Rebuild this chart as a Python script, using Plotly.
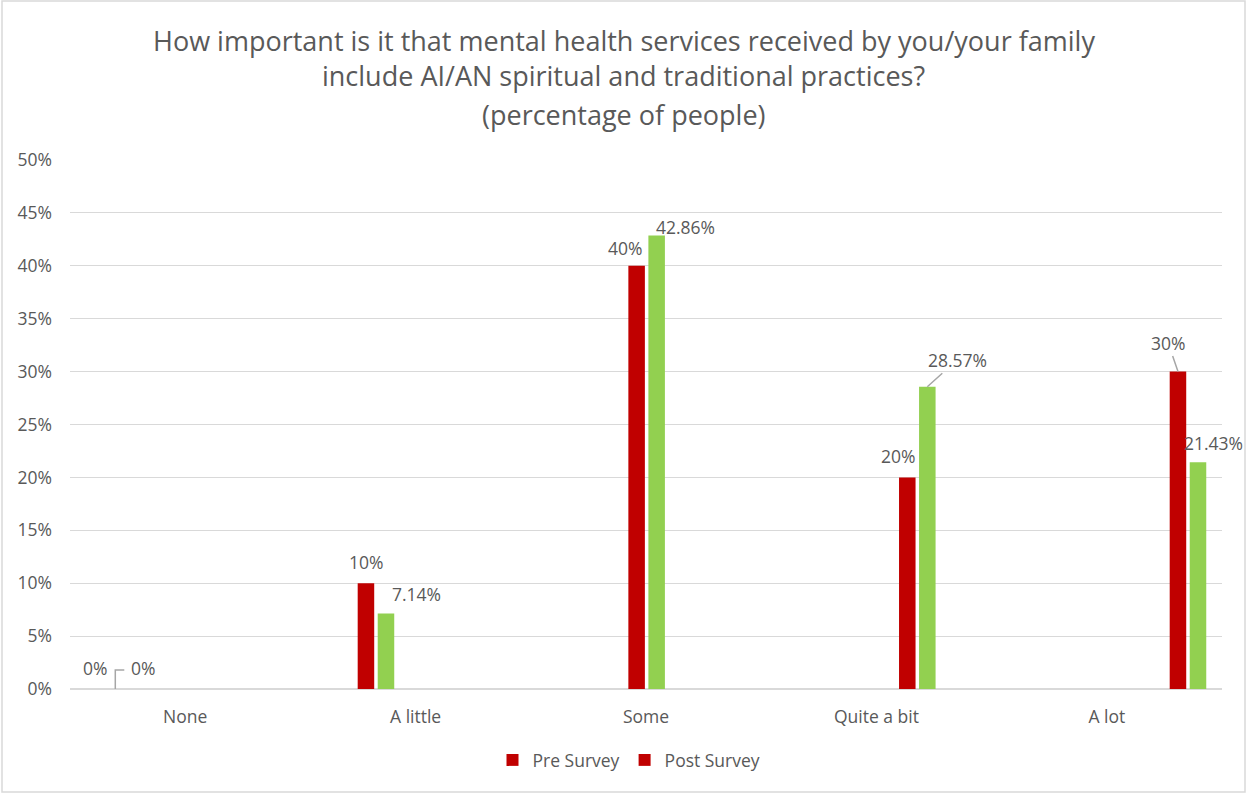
import plotly.graph_objects as go

# Survey answers and the share of people giving each answer
categories = ["None", "A little", "Some", "Quite a bit", "A lot"]
pre_survey = [0.0, 10.0, 40.0, 20.0, 30.0]
post_survey = [0.0, 7.14, 42.86, 28.57, 21.43]
series_names = ["Pre Survey", "Post Survey"]
y_ticks = [0, 5, 10, 15, 20, 25, 30, 35, 40, 45, 50]
title_lines = [
    "How important is it that mental health services received by you/your family",
    "include AI/AN spiritual and traditional practices?",
    "(percentage of people)",
]

RED = "#C00000"
GREEN = "#92D050"
TEXT = "#595959"
GRID = "#D9D9D9"
LEADER = "#A6A6A6"
FONT = "Open Sans, Segoe UI, Calibri, sans-serif"
FS = 17.5

# plot-area geometry (pixels)
L, R, T, B = 70, 25, 160, 105
W = 1247 - L - R
H = 794 - T - B


def py(pixel_y):
    """Convert a page y pixel into a paper fraction."""
    return (T + H - pixel_y) / H


def px(pixel_x):
    """Convert a page x pixel into a paper fraction."""
    return (pixel_x - L) / W


def fmt(v):
    return f"{v:g}%"


fig = go.Figure()

fig.add_trace(go.Bar(x=categories, y=pre_survey, name=series_names[0],
                     marker=dict(color=RED, line=dict(width=0)),
                     showlegend=False, xaxis="x", yaxis="y"))
fig.add_trace(go.Bar(x=categories, y=post_survey, name=series_names[1],
                     marker=dict(color=GREEN, line=dict(width=0)),
                     showlegend=False, xaxis="x", yaxis="y"))

# legend entries (both shown with the red swatch)
for nm in series_names:
    fig.add_trace(go.Scatter(x=[None], y=[None], mode="markers", name=nm,
                             marker=dict(symbol="square", size=11, color=RED)))

# carrier trace for the category labels axis
fig.add_trace(go.Scatter(x=categories, y=[0] * len(categories), mode="markers",
                         marker=dict(opacity=0), xaxis="x2", yaxis="y",
                         showlegend=False, hoverinfo="skip"))

# data labels: (series index, category index, dx, dy, leader)
HALF = 10  # pixel offset of each bar from its group centre
label_spec = [
    (0, 0, 0, -21, None),
    (1, 0, 28, -21, "L"),
    (0, 1, 0, -21, None),
    (1, 1, 31, -19, None),
    (0, 2, -12, -18, None),
    (1, 2, 29, -9, None),
    (0, 3, -9, -21, None),
    (1, 3, 30, -27, "arrow"),
    (0, 4, -10, -29, "arrow"),
    (1, 4, 16, -19, None),
]
series_vals = [pre_survey, post_survey]
for s, c, dx, dy, lead in label_spec:
    v = series_vals[s][c]
    bx = -HALF if s == 0 else HALF
    if lead == "arrow":
        fig.add_annotation(x=categories[c], y=v, xref="x", yref="y",
                           xshift=bx, text=fmt(v), showarrow=True,
                           arrowhead=0, arrowwidth=1.5, arrowcolor=LEADER,
                           ax=dx, ay=dy, standoff=0,
                           font=dict(family=FONT, size=FS, color=TEXT))
    else:
        fig.add_annotation(x=categories[c], y=v, xref="x", yref="y",
                           xshift=bx + dx, yshift=-dy, text=fmt(v),
                           showarrow=False,
                           font=dict(family=FONT, size=FS, color=TEXT))
        if lead == "L":
            fig.add_shape(type="path", xref="x", yref="y",
                          xsizemode="pixel", ysizemode="pixel",
                          xanchor=c, yanchor=v,
                          path=f"M {bx},0 L {bx},{-dy - 2} L {bx + 9},{-dy - 2}",
                          line=dict(color=LEADER, width=1.5))

# chart title, one annotation per line
for line, yc in zip(title_lines, [40, 75, 114]):
    fig.add_annotation(x=0.5, xref="paper", xshift=(1247 / 2) - (L + W / 2),
                       y=py(yc), yref="paper", yanchor="middle",
                       text=line, showarrow=False,
                       font=dict(family=FONT, size=27, color=TEXT))

# outer chart border
fig.add_shape(type="rect", xref="paper", yref="paper",
              x0=px(2), x1=px(1245), y0=py(792), y1=py(1),
              line=dict(color=GRID, width=1.5), fillcolor="rgba(0,0,0,0)",
              layer="below")

fig.update_layout(
    width=1247, height=794,
    margin=dict(l=L, r=R, t=T, b=B),
    paper_bgcolor="white", plot_bgcolor="white",
    barmode="group", bargap=0.852, bargroupgap=0.175,
    font=dict(family=FONT, size=FS, color=TEXT),
    xaxis=dict(type="category", categoryarray=categories,
               range=[-0.1304, 4.1257], showticklabels=False,
               showgrid=False, zeroline=False, showline=False, fixedrange=True),
    xaxis2=dict(type="category", categoryarray=categories, overlaying="x",
                anchor="y", side="bottom", range=[-0.5, 4.5],
                showgrid=False, zeroline=False, showline=False,
                ticks="", ticklabelstandoff=15,
                tickfont=dict(family=FONT, size=FS, color=TEXT)),
    yaxis=dict(range=[0, 50], tickvals=y_ticks,
               ticktext=[f"{t}%" for t in y_ticks],
               showgrid=True, gridcolor=GRID, gridwidth=1,
               zeroline=True, zerolinecolor=GRID, zerolinewidth=1.5,
               showline=False, ticks="", ticklabelstandoff=17,
               tickfont=dict(family=FONT, size=FS, color=TEXT)),
    legend=dict(orientation="h", x=px(629), xanchor="center",
                y=py(760), yanchor="middle",
                font=dict(family=FONT, size=FS, color=TEXT),
                itemsizing="constant", bgcolor="rgba(0,0,0,0)"),
)

fig.write_html("out.html")
